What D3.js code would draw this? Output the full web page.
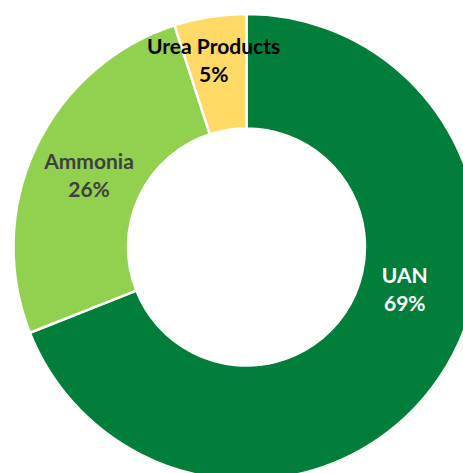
<!DOCTYPE html>
<html>
<head>
<meta charset="utf-8">
<script src="https://cdn.jsdelivr.net/npm/d3@7"></script>
<style>
  html, body { margin: 0; padding: 0; background: #ffffff; }
  svg { display: block; }
  .lbl { font-family: Lato, "Open Sans", sans-serif; font-weight: 700; font-size: 21px; }
</style>
</head>
<body>
<svg id="chart" width="463" height="473"></svg>
<script>
// Product mix shares (percent)
const categories = ["UAN", "Ammonia", "Urea Products"];
const shares = [69, 26, 5];
const sliceColors = ["#017e3a", "#92d050", "#ffd966"];
const labelColors = ["#ffffff", "#404040", "#000000"];

const width = 463, height = 473;
const cx = 246.5, cy = 247;
const innerR = 118.5, outerR = 233;

// Label placement: radius from centre and angle tweak (degrees) from the slice middle
const labelPlacement = [
  { r: 166, shift: -16.6 },
  { r: 170, shift: -3.1 },
  { r: 182, shift: -1.4 }
];

const svg = d3.select("#chart");
const g = svg.append("g").attr("transform", `translate(${cx},${cy})`);

const pie = d3.pie().sort(null).value(d => d.value);
const arcs = pie(categories.map((c, i) => ({ name: c, value: shares[i], i })));

const arc = d3.arc().innerRadius(innerR).outerRadius(outerR);

g.selectAll("path.slice")
  .data(arcs)
  .join("path")
  .attr("class", "slice")
  .attr("d", arc)
  .attr("fill", d => sliceColors[d.data.i])
  .attr("stroke", "#ffffff")
  .attr("stroke-width", 2.5)
  .attr("stroke-linejoin", "miter");

const labels = g.selectAll("g.label")
  .data(arcs)
  .join("g")
  .attr("class", "label")
  .attr("transform", d => {
    const p = labelPlacement[d.data.i];
    const mid = (d.startAngle + d.endAngle) / 2 + p.shift * Math.PI / 180;
    const pt = d3.arc().innerRadius(p.r).outerRadius(p.r).startAngle(mid).endAngle(mid).centroid();
    return `translate(${pt[0]},${pt[1]})`;
  });

labels.append("text")
  .attr("class", "lbl")
  .attr("text-anchor", "middle")
  .attr("y", -14)
  .attr("fill", d => labelColors[d.data.i])
  .text(d => d.data.name);

labels.append("text")
  .attr("class", "lbl")
  .attr("text-anchor", "middle")
  .attr("y", 14)
  .attr("fill", d => labelColors[d.data.i])
  .text(d => d.data.value + "%");
</script>
</body>
</html>
